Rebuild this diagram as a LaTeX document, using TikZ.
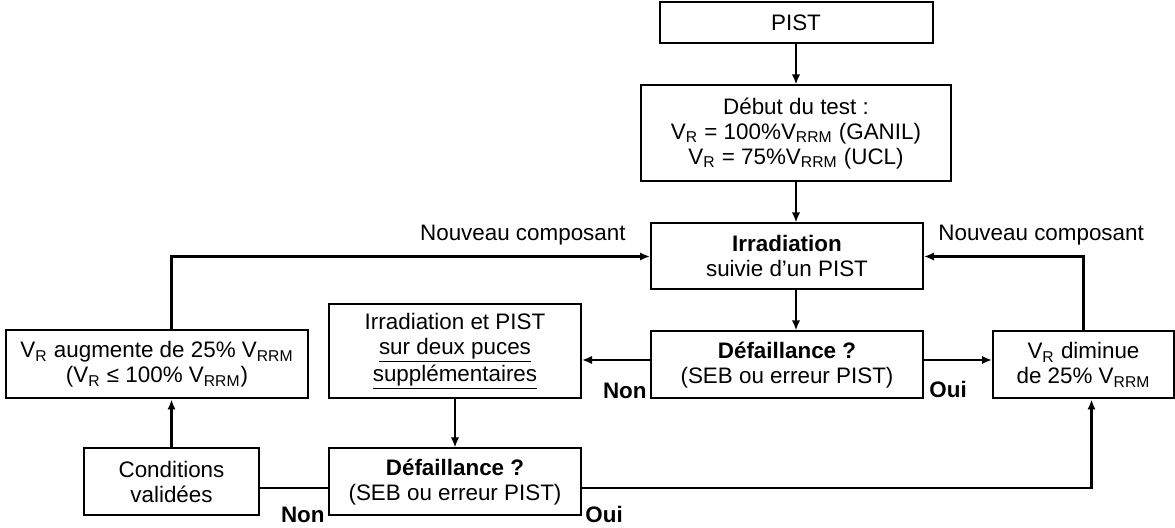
\documentclass[tikz,border=0pt]{standalone}
\usepackage{fontspec}
\setmainfont{Liberation Sans}
\usetikzlibrary{arrows.meta, calc, positioning}
\newcommand{\vR}{V\textsubscript{R}}
\newcommand{\vRRM}{V\textsubscript{RRM}}

\begin{document}
\begin{tikzpicture}[
    x=0.5pt, y=-0.5pt,
    >={Latex[length=5pt,width=4.2pt]},
    every node/.style={font=\fontsize{11.2}{12.5}\selectfont},
    box/.style ={draw, line width=1pt, align=center, inner sep=2pt},
    flow/.style={->, line width=1.4pt},
    link/.style={line width=1.4pt},
    lbl/.style ={inner sep=0pt, font=\fontsize{11.2}{12.5}\selectfont\bfseries},
]
\useasboundingbox (0,0) rectangle (1175,528);
% --- main column ---
\node[box, minimum width=136pt, minimum height=33pt] (irr) at (787,256.5)
     {\textbf{Irradiation}\\suivie d’un PIST};
\node[box, above=20pt of irr, xshift=4.5pt, minimum width=155pt, minimum height=48pt] (debut)
     {Début du test :\\\vR{} = 100\%\vRRM{} (GANIL)\\\vR{} = 75\%\vRRM{} (UCL)};
\node[box, above=20pt of debut, minimum width=136.5pt, minimum height=20.5pt] (pist) {PIST};
\node[box, below=20pt of irr, minimum width=136pt, minimum height=33.5pt] (def1)
     {\textbf{Défaillance ?}\\(SEB ou erreur PIST)};
\node[box, right=34pt of def1, minimum width=90.5pt, minimum height=33.5pt] (vrdim)
     {\vR{} diminue\\de 25\% \vRRM};

% --- left side: two extra chips ---
\node[box, left=34pt of def1.south west, anchor=south east, minimum width=126pt, minimum height=47pt] (irrpist)
     {Irradiation et PIST\\\underline{sur deux puces}\\\underline{supplémentaires}};
\node[box, left=9.5pt of irrpist.south west, anchor=south east, minimum width=151pt, minimum height=34pt] (vraug)
     {\vR{} augmente de 25\% \vRRM\\(\vR{} ≤ 100\% \vRRM)};
\node[box, below=24pt of irrpist, minimum width=126pt, minimum height=33.5pt] (def2)
     {\textbf{Défaillance ?}\\(SEB ou erreur PIST)};
\node[box, left=34pt of def2, minimum width=87.5pt, minimum height=33.5pt] (cond)
     {Conditions\\validées};

% --- connectors ---
\draw[flow] (pist) -- (debut);
\draw[flow] (debut.south) -- (debut.south |- irr.north);
\draw[flow] (debut.south |- irr.south) -- (debut.south |- def1.north);
\coordinate (d1w) at ([yshift=2.5pt]def1.west);
\coordinate (d1e) at ([yshift=2.5pt]def1.east);
\draw[flow] (d1w) -- (d1w -| irrpist.east);
\draw[flow] (d1e) -- (d1e -| vrdim.west);
\draw[flow] (vrdim.north) |- (irr.east);
\draw[flow] (cond.north) -- (cond.north |- vraug.south);
\draw[flow] (cond.north |- vraug.north) |- (irr.west);
\draw[flow] (irrpist.south) -- (def2.north);
\coordinate (d2w) at ([yshift=-3pt]def2.west);
\coordinate (d2e) at ([yshift=-3pt]def2.east);
\draw[link] (d2w) -- (d2w -| cond.east);
\draw[flow] (d2e) -| ([xshift=4pt]vrdim.south);

% --- labels ---
\node[inner sep=0pt, anchor=base east] (newl) at ($(irr.west)+(-24,-15.5)$) {Nouveau composant};
\node[inner sep=0pt, anchor=base west] (newr) at ($(irr.east)+(14,-15.5)$) {Nouveau composant};
\node[lbl, anchor=base east] (non1) at ($(def1.south west)+(-3,-1)$) {Non};
\node[lbl, anchor=base west] (oui1) at ($(def1.south east)+(5,-2)$) {Oui};
\node[lbl, anchor=base east] (non2) at ($(def2.south west)+(-3,6)$) {Non};
\node[lbl, anchor=base west] (oui2) at ($(def2.south east)+(3,6)$) {Oui};
\end{tikzpicture}
\end{document}
